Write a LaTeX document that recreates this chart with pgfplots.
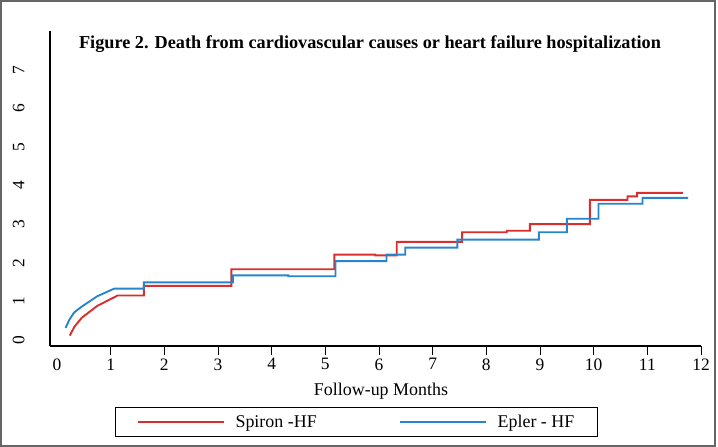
\documentclass[border=0pt]{standalone}
\usepackage{fontspec}
\setmainfont{Liberation Serif}
\usepackage{pgfplots}
\pgfplotsset{compat=1.18}
\definecolor{spiron}{RGB}{218,45,45}
\definecolor{epler}{RGB}{40,132,204}
\begin{document}
\begin{tikzpicture}
\useasboundingbox (0,0) rectangle (718bp,447bp);
\draw[black!60, line width=1.5bp] (1bp,1bp) rectangle (715bp,446bp);
\begin{axis}[
  at={(50bp,101bp)}, anchor=south west,
  scale only axis, width=651bp, height=315bp,
  xmin=-0.13, xmax=12, ymin=-0.16, ymax=8.01,
  axis lines=left, axis line style={-, line width=1.2bp},
  /pgf/number format/assume math mode=true,
  ticklabel style={font=\fontsize{17.5}{20}\selectfont},
  xtick={1,...,12}, extra x ticks={0}, extra x tick style={tick style={draw=none}},
  tick align=outside, major tick length=9bp,
  x tick style={line width=0.8bp, black},
  ytick={0,...,7}, y tick style={draw=none},
  yticklabel style={xshift=-13bp, rotate=90, anchor=south},
  title={\textbf{Figure 2. Death from cardiovascular causes or heart failure hospitalization}},
  title style={at={(0.4916,0.94)}, anchor=center, font=\fontsize{18.3}{20}\selectfont},
  xlabel={Follow-up Months},
  xlabel style={at={(0.5084,-0.143)}, anchor=center, font=\fontsize{18}{20}\selectfont},
  legend columns=2,
  legend image code/.code={\draw[#1] (0bp,0bp) -- (86bp,0bp);},
  legend style={at={(0.4708,-0.2413)}, anchor=center, draw=black, line width=1.2bp,
    font=\fontsize{18}{20}\selectfont, inner xsep=21bp, inner ysep=5.5bp,
    /tikz/every odd column/.append style={column sep=9bp},
    /tikz/every even column/.append style={column sep=80bp}},
]
\addplot[spiron, line width=1.9bp] coordinates {
(0.24,0.11)(0.32,0.33)(0.46,0.57)(0.75,0.88)(1.13,1.15)(1.62,1.15)(1.62,1.40)
(3.25,1.40)(3.25,1.83)(5.17,1.83)(5.17,2.21)(5.93,2.21)(5.93,2.19)(6.33,2.19)
(6.33,2.54)(7.55,2.54)(7.55,2.79)(8.38,2.79)(8.38,2.83)(8.81,2.83)(8.81,3.00)
(9.93,3.00)(9.93,3.63)(10.63,3.63)(10.63,3.72)(10.81,3.72)(10.81,3.81)(11.66,3.81)
};
\addlegendentry{Spiron -HF}
\addplot[epler, line width=1.9bp] coordinates {
(0.16,0.31)(0.23,0.52)(0.32,0.71)(0.46,0.86)(0.75,1.13)(1.07,1.33)(1.62,1.33)
(1.62,1.49)(3.28,1.49)(3.28,1.67)(4.31,1.67)(4.31,1.65)(5.19,1.65)(5.19,2.04)
(6.14,2.04)(6.14,2.21)(6.49,2.21)(6.49,2.39)(7.46,2.39)(7.46,2.60)(8.98,2.60)
(8.98,2.79)(9.50,2.79)(9.50,3.14)(10.09,3.14)(10.09,3.53)(10.91,3.53)(10.91,3.68)
(11.76,3.68)
};
\addlegendentry{Epler - HF}
\end{axis}
\end{tikzpicture}
\end{document}
